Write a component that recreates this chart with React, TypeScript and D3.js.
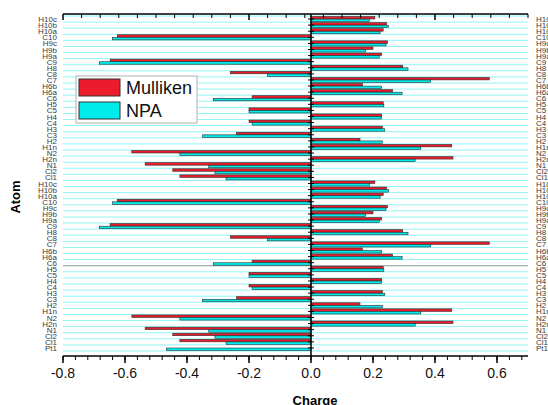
import React, { useEffect, useRef } from 'react';
import * as d3 from 'd3';

// atoms from top to bottom of one block
const atoms = ["H10c", "H10b", "H10a", "C10", "H9c", "H9b", "H9a", "C9", "H8", "C8", "C7", "H6b", "H6a", "C6", "H5", "C5", "H4", "C4", "H3", "C3", "H2", "H1n", "N2", "H2n", "N1", "Cl2", "Cl1", "Pt1"];
const mulliken = [0.206, 0.244, 0.233, -0.625, 0.247, 0.2, 0.228, -0.648, 0.296, -0.26, 0.575, 0.166, 0.263, -0.19, 0.233, -0.2, 0.228, -0.2, 0.23, -0.24, 0.158, 0.454, -0.578, 0.458, -0.535, -0.446, -0.423, 0];
const npa = [0.188, 0.25, 0.223, -0.64, 0.242, 0.176, 0.22, -0.683, 0.313, -0.14, 0.386, 0.228, 0.294, -0.315, 0.235, -0.2, 0.228, -0.19, 0.238, -0.35, 0.23, 0.354, -0.423, 0.336, -0.33, -0.31, -0.274, -0.466];
const xTicks = [-0.8, -0.6, -0.4, -0.2, 0.0, 0.2, 0.4, 0.6];
const series = ["Mulliken", "NPA"];
const colors = ["#ec1c2c", "#00ecec"];

const App = () => {
  const svgRef = useRef(null);

  useEffect(() => {
    // the figure shows the same block twice, the upper one without Pt1
    const block = atoms.map((a, i) => ({ atom: a, m: mulliken[i], n: npa[i] }));
    const rows = [
      ...block.slice(0, 27).map((d, i) => ({ ...d, key: "a" + i })),
      ...block.map((d, i) => ({ ...d, key: "b" + i })),
    ];

    const svg = d3.select(svgRef.current);
    svg.selectAll("*").remove();

    const left = 63, right = 528, top = 14, bottom = 356;

    const x = d3.scaleLinear().domain([-0.8, 0.7]).range([left, right]);
    const xTop = d3.scaleLinear().domain([0, 25]).range([left, right]);
    const y = d3.scaleBand().domain(rows.map(d => d.key)).range([16, 351]).padding(0);
    const sub = d3.scaleBand().domain(["m", "n"]).range([0, y.bandwidth()]).paddingInner(0.05).paddingOuter(0.2);

    // cyan grid lines between rows
    const bounds = rows.map(d => y(d.key)).concat([y.range()[1]]);
    svg.append("g").selectAll("line")
      .data(bounds)
      .enter().append("line")
      .attr("x1", left).attr("x2", right)
      .attr("y1", d => d).attr("y2", d => d)
      .attr("stroke", "#92f4f4")
      .attr("stroke-width", 1);

    svg.append("line")
      .attr("x1", left).attr("x2", right)
      .attr("y1", bounds[41]).attr("y2", bounds[41])
      .attr("stroke", "#a0a0a0")
      .attr("stroke-width", 1);

    // bars
    const g = svg.append("g");
    rows.forEach(d => {
      [["m", d.m, colors[0]], ["n", d.n, colors[1]]].forEach(([k, v, c]) => {
        g.append("rect")
          .attr("x", Math.min(x(0), x(v)))
          .attr("width", Math.abs(x(v) - x(0)))
          .attr("y", y(d.key) + sub(k))
          .attr("height", sub.bandwidth())
          .attr("fill", c)
          .attr("stroke", "#2a2a2a")
          .attr("stroke-width", 0.6);
      });
    });

    // zero axis with row ticks
    svg.append("line")
      .attr("x1", x(0)).attr("x2", x(0))
      .attr("y1", top).attr("y2", bottom)
      .attr("stroke", "#000").attr("stroke-width", 1.5);
    svg.append("g").selectAll("line")
      .data(rows)
      .enter().append("line")
      .attr("x1", x(0) - 3).attr("x2", x(0) + 3)
      .attr("y1", d => y(d.key) + y.bandwidth() / 2)
      .attr("y2", d => y(d.key) + y.bandwidth() / 2)
      .attr("stroke", "#000").attr("stroke-width", 1);

    // bottom axis
    const minor = d3.range(-0.8, 0.7001, 0.04);
    const ax = svg.append("g").attr("transform", `translate(0,${bottom})`);
    ax.append("line").attr("x1", left).attr("x2", right).attr("stroke", "#000").attr("stroke-width", 1.5);
    ax.selectAll(".mt").data(minor).enter().append("line")
      .attr("x1", d => x(d)).attr("x2", d => x(d))
      .attr("y1", 0).attr("y2", 4)
      .attr("stroke", "#000").attr("stroke-width", 1);
    ax.selectAll(".Mt").data(xTicks).enter().append("line")
      .attr("x1", d => x(d)).attr("x2", d => x(d))
      .attr("y1", 0).attr("y2", 7)
      .attr("stroke", "#000").attr("stroke-width", 1.5);
    ax.selectAll("text").data(xTicks).enter().append("text")
      .attr("x", d => x(d))
      .attr("y", 22)
      .attr("text-anchor", "middle")
      .attr("font-family", "Liberation Sans, Arial, sans-serif")
      .attr("font-size", 14)
      .attr("fill", "#111")
      .text(d => d.toFixed(1));

    // top axis (no labels)
    const at = svg.append("g").attr("transform", `translate(0,${top})`);
    at.append("line").attr("x1", left).attr("x2", right).attr("stroke", "#000").attr("stroke-width", 1.5);
    at.selectAll("line.t").data(d3.range(0, 26)).enter().append("line")
      .attr("x1", d => xTop(d)).attr("x2", d => xTop(d))
      .attr("y1", 0).attr("y2", d => d % 10 === 0 ? 6 : 4)
      .attr("stroke", "#000").attr("stroke-width", d => d % 10 === 0 ? 1.5 : 1);

    // atom labels on both sides
    const font = "Liberation Sans, Arial, sans-serif";
    svg.append("g").selectAll("text")
      .data(rows)
      .enter().append("text")
      .attr("x", 57)
      .attr("y", d => y(d.key) + y.bandwidth() / 2 + 3)
      .attr("text-anchor", "end")
      .attr("font-family", font)
      .attr("font-size", 8)
      .attr("fill", "#3a3a3a")
      .text(d => d.atom);
    svg.append("g").selectAll("text")
      .data(rows)
      .enter().append("text")
      .attr("x", 536)
      .attr("y", d => y(d.key) + y.bandwidth() / 2 + 3)
      .attr("font-family", font)
      .attr("font-size", 8)
      .attr("fill", "#3a3a3a")
      .text(d => d.atom);

    // axis titles
    svg.append("text")
      .attr("x", x(0) + 4).attr("y", 405)
      .attr("text-anchor", "middle")
      .attr("font-family", font).attr("font-weight", "bold").attr("font-size", 13)
      .text("Charge");
    svg.append("text")
      .attr("transform", "translate(20,197) rotate(-90)")
      .attr("text-anchor", "middle")
      .attr("font-family", font).attr("font-weight", "bold").attr("font-size", 13)
      .text("Atom");

    // legend
    const lg = svg.append("g").attr("transform", "translate(76,76)");
    lg.append("rect").attr("width", 121).attr("height", 47)
      .attr("fill", "#fff").attr("stroke", "#b0b0b0");
    series.forEach((s, i) => {
      lg.append("rect")
        .attr("x", 3).attr("y", 3 + i * 23)
        .attr("width", 41).attr("height", 17)
        .attr("fill", colors[i]).attr("stroke", "#333").attr("stroke-width", 1);
      lg.append("text")
        .attr("x", 50).attr("y", 18 + i * 23)
        .attr("font-family", font).attr("font-size", 18)
        .attr("fill", "#111")
        .text(s);
    });
  }, []);

  return (
    <svg ref={svgRef} width={548} height={405}
      style={{ position: 'absolute', left: 0, top: 0, background: '#fff' }}></svg>
  );
};

export default App;
